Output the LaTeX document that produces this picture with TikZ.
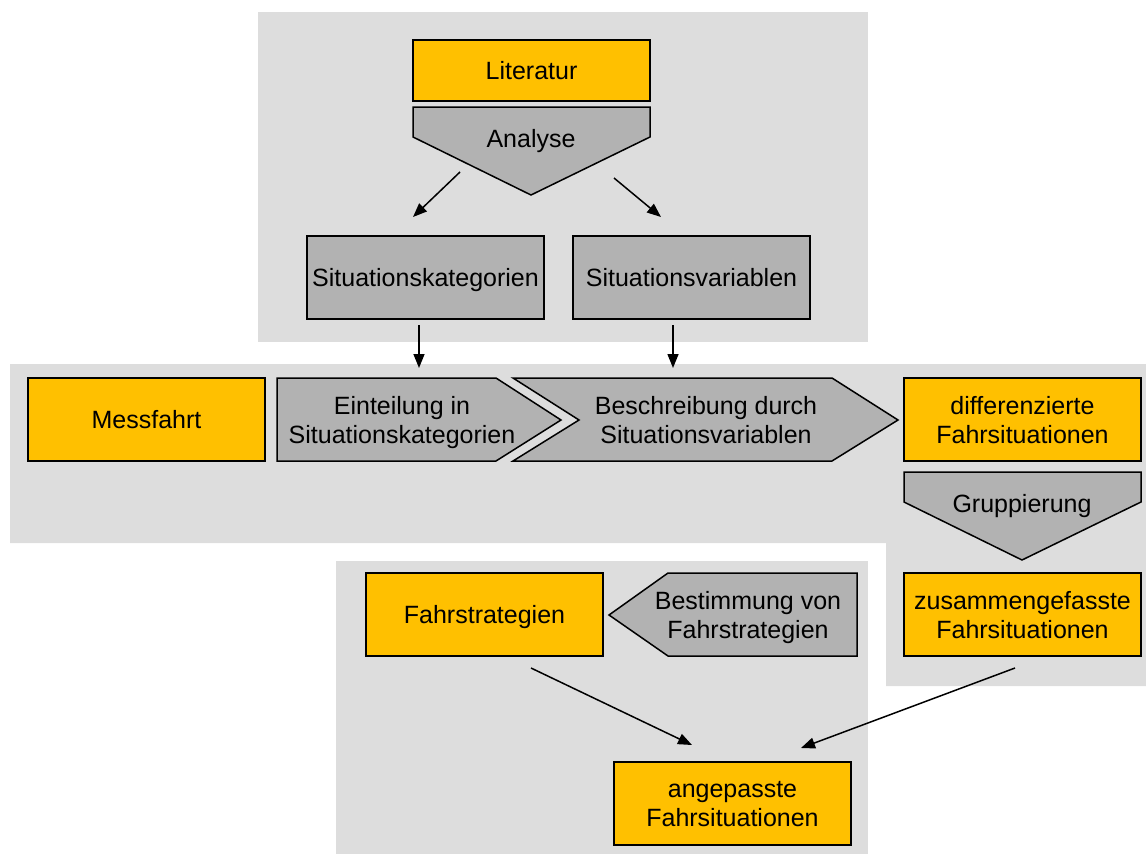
\documentclass[tikz,border=0pt]{standalone}
\usepackage{fontspec}
\setmainfont{Liberation Sans}
\usetikzlibrary{arrows.meta}
\definecolor{bg}{HTML}{DDDDDD}
\definecolor{og}{HTML}{FFC000}
\definecolor{gr}{HTML}{B2B2B2}
\begin{document}
\begin{tikzpicture}[x=1pt,y=-1pt,
  txt/.style={font=\fontsize{25}{29}\selectfont, align=center, inner sep=0pt, text depth=0pt},
  one/.style={text height=18pt, text depth=0pt},
  box/.style={txt, draw, line width=1.5pt, minimum width=237pt, minimum height=83pt},
  obox/.style={box, fill=og},
  gbox/.style={box, fill=gr},
  shp/.style={draw, line width=1.5pt, fill=gr, line join=miter},
  conn/.style={line width=1.5pt, -{Triangle[length=14pt,width=11pt]}}
]
\useasboundingbox (0,0) rectangle (1146,854);
% backgrounds
\fill[bg] (258,12) rectangle (868,342);
\fill[bg] (10,364) -- (1146,364) -- (1146,686) -- (886,686) -- (886,543) -- (10,543) -- cycle;
\fill[bg] (336,561) rectangle (868,854);

% nodes
\node[obox, one, minimum height=61pt] (lit) at (531.5,70.5) {Literatur};
\draw[shp] (413,107) -- (650,107) -- (650,137) -- (531,195) -- (413,137) -- cycle;
\node[txt, one] (ana) at (531,138) {Analyse};

\node[gbox, one] (kat) at (425.5,277.5) {Situationskategorien};
\node[gbox, one] (var) at (691.5,277.5) {Situationsvariablen};

\node[obox, one] (mess) at (146.5,419.5) {Messfahrt};
\draw[shp] (277,378) -- (496,378) -- (561,420) -- (496,461) -- (277,461) -- cycle;
\node[txt] (ein) at (402,420) {Einteilung in\\Situationskategorien};
\draw[shp] (513,378) -- (832,378) -- (898,420) -- (832,461) -- (513,461) -- (579,420) -- cycle;
\node[txt] (bes) at (706,420) {Beschreibung durch\\Situationsvariablen};

\node[obox] (diff) at (1022.5,419.5) {differenzierte\\Fahrsituationen};
\draw[shp] (904,472) -- (1141,472) -- (1141,502) -- (1022,560) -- (904,502) -- cycle;
\node[txt, one] (grp) at (1022,503) {Gruppierung};
\node[obox] (zus) at (1022.5,614.5) {zusammengefasste\\Fahrsituationen};

\node[obox, one] (fs) at (484.5,614.5) {Fahrstrategien};
\draw[shp] (609,615) -- (668,573) -- (857,573) -- (857,656) -- (668,656) -- cycle;
\node[txt] (bst) at (748,615) {Bestimmung von\\Fahrstrategien};

\node[obox] (ang) at (732.5,803.5) {angepasste\\Fahrsituationen};

% connector ends
\coordinate (a1s) at (460,172); \coordinate (a1e) at (413,217);
\coordinate (a2s) at (614,178); \coordinate (a2e) at (661,217);
\coordinate (a3s) at (419,325); \coordinate (a3e) at (419,368);
\coordinate (a4s) at (673,325); \coordinate (a4e) at (673,368);
\coordinate (a5s) at (531,668); \coordinate (a5e) at (692,745);
\coordinate (a6s) at (1015,668); \coordinate (a6e) at (801,748);
\draw[conn] (a1s) -- (a1e);
\draw[conn] (a2s) -- (a2e);
\draw[conn] (a3s) -- (a3e);
\draw[conn] (a4s) -- (a4e);
\draw[conn] (a5s) -- (a5e);
\draw[conn] (a6s) -- (a6e);
\end{tikzpicture}
\end{document}
